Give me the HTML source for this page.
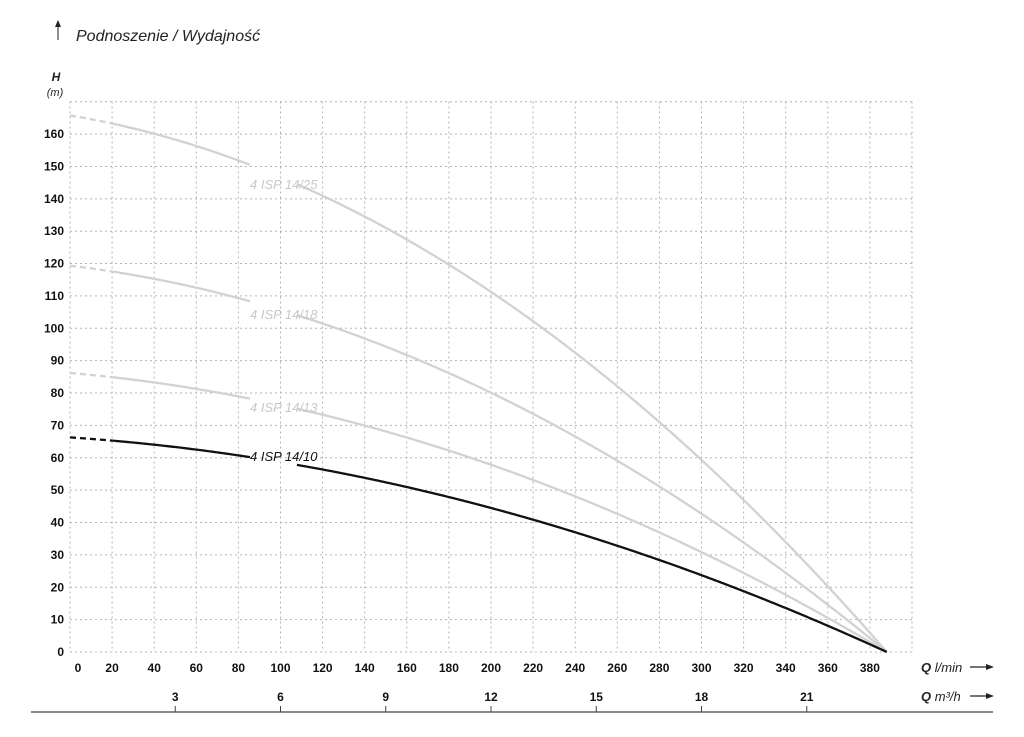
<!DOCTYPE html>
<html><head><meta charset="utf-8"><style>
html,body{margin:0;padding:0;background:#fff;}
svg text{font-family:"Liberation Sans",sans-serif;}
</style></head><body>
<svg id="s" width="1024" height="732" viewBox="0 0 1024 732" xmlns="http://www.w3.org/2000/svg">
<g id="grid" stroke="#b4b4b4" stroke-width="1" stroke-dasharray="2,3" fill="none"></g>
<g id="curves" fill="none" stroke-width="2.3"></g>
<g font-size="12" font-weight="bold" fill="#111" id="labels"></g>
<text x="76" y="41" font-size="16" font-style="italic" fill="#222">Podnoszenie / Wydajność</text>
<line x1="58" y1="40" x2="58" y2="24" stroke="#222" stroke-width="1"/>
<path d="M55,27 L58,20 L61,27 Z" fill="#222"/>
<text x="56" y="81" font-size="12" font-weight="bold" font-style="italic" text-anchor="middle" fill="#222">H</text>
<text x="55" y="96" font-size="11" font-style="italic" text-anchor="middle" fill="#222">(m)</text>
<text x="250" y="189" font-size="13" font-style="italic" fill="#c8c8c8">4 ISP 14/25</text>
<text x="250" y="319" font-size="13" font-style="italic" fill="#c8c8c8">4 ISP 14/18</text>
<text x="250" y="412" font-size="13" font-style="italic" fill="#c8c8c8">4 ISP 14/13</text>
<text x="250" y="461" font-size="13" font-style="italic" fill="#111">4 ISP 14/10</text>
<text x="921" y="672" font-size="13" font-style="italic" fill="#222"><tspan font-weight="bold">Q</tspan> l/min</text>
<text x="921" y="701" font-size="13" font-style="italic" fill="#222"><tspan font-weight="bold">Q</tspan> m³/h</text>
<line x1="970" y1="667" x2="988" y2="667" stroke="#222" stroke-width="1.2"/><path d="M986,664 L994,667 L986,670 Z" fill="#222"/>
<line x1="970" y1="696" x2="988" y2="696" stroke="#222" stroke-width="1.2"/><path d="M986,693 L994,696 L986,699 Z" fill="#222"/>
<line x1="31" y1="712" x2="993" y2="712" stroke="#444" stroke-width="1.2"/>
</svg>
<script>
var NS="http://www.w3.org/2000/svg";
function el(p,t,a,txt){var e=document.createElementNS(NS,t);for(var k in a)e.setAttribute(k,a[k]);if(txt!==undefined)e.textContent=txt;document.getElementById(p)?document.getElementById(p).appendChild(e):p.appendChild(e);return e;}
var X0=70,DX=2.105,Y0=652,S=3.237;
function X(q){return X0+DX*q;} function Y(h){return Y0-S*h;}
// grid
for(var i=0;i<=20;i++){var x=X0+i*42.1;el("grid","line",{x1:x,y1:101.5,x2:x,y2:652});}
for(var j=0;j<=17;j++){var y=Y(j*10);el("grid","line",{x1:70,y1:y,x2:912,y2:y});}
for(var j=0;j<=16;j++){el("labels","text",{x:64,y:Y(j*10)+4,"text-anchor":"end"},String(j*10));}
for(var i=0;i<=19;i++){var x=X0+i*42.1;el("labels","text",{x:i==0?78:x,y:672,"text-anchor":"middle"},String(i*20));}
[3,6,9,12,15,18,21].forEach(function(m){var x=X(m*50/3);el("labels","text",{x:x,y:701,"text-anchor":"middle"},String(m));el("s","line",{x1:x,y1:706,x2:x,y2:712,stroke:"#444","stroke-width":1});});
function H(q){return 66.3-0.0432*q-0.000329*q*q;}
function pathFor(k,q0,q1){var d="";for(var q=q0;q<=q1+1e-9;q+=1){d+=(d?"L":"M")+X(q).toFixed(2)+","+Y(k*H(q)).toFixed(2);}
 if(q1>q0 && Math.abs((q-1)-q1)>1e-6) d+="L"+X(q1).toFixed(2)+","+Y(k*H(q1)).toFixed(2);return d;}
var QE=388;
[[2.5,"#d2d2d2"],[1.8,"#d2d2d2"],[1.3,"#d2d2d2"],[1.0,"#111"]].forEach(function(c){
 var k=c[0],col=c[1];
 el("curves","path",{d:pathFor(k,0,20),stroke:col,"stroke-dasharray":"6,4"});
 el("curves","path",{d:pathFor(k,20,85.5),stroke:col});
 el("curves","path",{d:pathFor(k,107.8,QE),stroke:col});
});
</script>
</body></html>
